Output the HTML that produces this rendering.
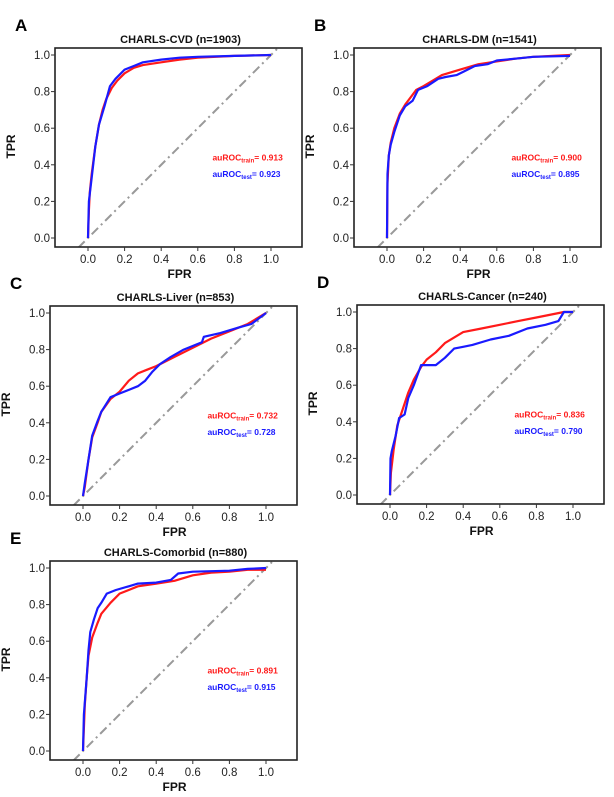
<!DOCTYPE html>
<html><head><meta charset="utf-8"><style>
html,body{margin:0;padding:0;background:#fff}
svg{display:block;font-family:"Liberation Sans",Arial,sans-serif}
</style></head><body>
<svg id="fig" width="614" height="797" viewBox="0 0 614 797" xmlns="http://www.w3.org/2000/svg"></svg>
<script>
const panelLetters = ["A","B","C","D","E"];
const panelTitles = ["CHARLS-CVD (n=1903)","CHARLS-DM (n=1541)","CHARLS-Liver (n=853)","CHARLS-Cancer (n=240)","CHARLS-Comorbid (n=880)"];
const aucTrain = ["0.913","0.900","0.732","0.836","0.891"];
const aucTest = ["0.923","0.895","0.728","0.790","0.915"];
const tickValues = [0,0.2,0.4,0.6,0.8,1.0];
const tickLabels = ["0.0","0.2","0.4","0.6","0.8","1.0"];

const trainFPR = [
 [0,0.005,0.01,0.02,0.04,0.06,0.08,0.1,0.13,0.16,0.2,0.25,0.3,0.4,0.5,0.6,0.8,1],
 [0,0.003,0.01,0.02,0.04,0.07,0.1,0.13,0.16,0.2,0.25,0.3,0.4,0.5,0.6,0.7,0.8,1],
 [0,0.01,0.03,0.05,0.08,0.1,0.15,0.2,0.25,0.3,0.35,0.4,0.5,0.6,0.7,0.8,0.9,1],
 [0,0.005,0.02,0.04,0.07,0.1,0.13,0.17,0.2,0.25,0.3,0.4,0.5,0.6,0.7,0.8,0.95,1],
 [0,0.01,0.02,0.03,0.05,0.08,0.1,0.15,0.2,0.25,0.3,0.4,0.5,0.6,0.7,0.8,0.9,1]
];
const trainTPR = [
 [0,0.15,0.25,0.35,0.5,0.62,0.7,0.76,0.82,0.86,0.9,0.93,0.945,0.96,0.975,0.985,0.995,1],
 [0,0.3,0.45,0.52,0.6,0.68,0.73,0.77,0.81,0.83,0.86,0.89,0.92,0.95,0.965,0.98,0.99,1],
 [0,0.05,0.2,0.32,0.4,0.46,0.53,0.57,0.63,0.67,0.69,0.71,0.76,0.81,0.86,0.9,0.94,1],
 [0,0.12,0.25,0.38,0.47,0.56,0.63,0.7,0.74,0.78,0.83,0.89,0.91,0.93,0.95,0.97,1,1],
 [0,0.25,0.4,0.52,0.62,0.7,0.75,0.81,0.86,0.88,0.9,0.915,0.93,0.96,0.975,0.98,0.99,0.99]
];
const testFPR = [
 [0,0.005,0.02,0.04,0.06,0.09,0.12,0.15,0.2,0.25,0.3,0.4,0.5,0.6,0.8,1],
 [0,0.003,0.01,0.02,0.04,0.07,0.1,0.14,0.17,0.22,0.28,0.32,0.38,0.42,0.48,0.55,0.6,0.7,0.8,1],
 [0,0.01,0.03,0.05,0.08,0.1,0.15,0.2,0.25,0.3,0.34,0.38,0.42,0.48,0.55,0.65,0.66,0.75,0.85,0.92,1],
 [0,0.003,0.01,0.03,0.05,0.08,0.1,0.13,0.17,0.25,0.3,0.35,0.4,0.45,0.55,0.65,0.75,0.85,0.92,0.95,1],
 [0,0.005,0.02,0.03,0.04,0.06,0.08,0.1,0.13,0.18,0.25,0.3,0.4,0.48,0.52,0.6,0.8,0.9,1]
];
const testTPR = [
 [0,0.2,0.33,0.5,0.62,0.72,0.83,0.87,0.92,0.94,0.96,0.975,0.985,0.99,0.995,1],
 [0,0.35,0.45,0.51,0.58,0.67,0.72,0.75,0.81,0.83,0.87,0.88,0.89,0.91,0.94,0.95,0.97,0.98,0.99,0.995],
 [0,0.07,0.2,0.33,0.41,0.46,0.54,0.56,0.58,0.6,0.63,0.68,0.72,0.76,0.8,0.84,0.87,0.89,0.92,0.94,1],
 [0,0.2,0.24,0.32,0.42,0.44,0.53,0.6,0.71,0.71,0.75,0.8,0.81,0.82,0.85,0.87,0.91,0.93,0.95,1,1],
 [0,0.2,0.4,0.55,0.65,0.72,0.78,0.81,0.86,0.88,0.9,0.915,0.92,0.935,0.97,0.98,0.985,0.995,1]
];

// layout: pixel positions of x=0 and y=0 for each panel
const layout = [
 {x0:88,y0:238},{x0:387,y0:238},{x0:83,y0:496},{x0:390,y0:495},{x0:83,y0:751}
];
const S = 183;
const NS = "http://www.w3.org/2000/svg";
const svg = document.getElementById('fig');
function el(tag, attrs, parent, text){
  const e = document.createElementNS(NS, tag);
  for (const k in attrs) e.setAttribute(k, attrs[k]);
  if (text !== undefined) e.textContent = text;
  (parent||svg).appendChild(e);
  return e;
}
panelLetters.forEach((L,i)=>{
  const {x0,y0} = layout[i];
  const X = v => x0 + v*S;
  const Y = v => y0 - v*S;
  const g = el('g',{});
  
  
  const left = x0-33, right = x0+214, top = Y(1)-7, bottom = y0+9;
  const clipId = 'clip'+i;
  const cp = el('clipPath',{id:clipId},g);
  el('rect',{x:left,y:top,width:right-left,height:bottom-top},cp);
  // letter
  const lt = el('text',{x:left-40,y:top-17,'font-size':17,'font-weight':'bold',fill:'#000'},g,L);
  
  
  const tt = el('text',{x:(left+right)/2+2,y:top-5,'font-size':11,'font-weight':'bold','text-anchor':'middle',fill:'#111'},g,panelTitles[i]);
  
  
  // diagonal
  const dg = el('line',{x1:X(-0.2),y1:Y(-0.2),x2:X(1.2),y2:Y(1.2),stroke:'#999',"stroke-width":2,"stroke-dasharray":"9,4,2,4","clip-path":`url(#${clipId})`},g);
  
  
  // curves
  const mk = (fx,ty,col,name)=>{
    const pts = fx.map((v,k)=>X(v).toFixed(1)+','+Y(ty[k]).toFixed(1)).join(' ');
    const p = el('polyline',{points:pts,fill:'none',stroke:col,'stroke-width':2.2,'stroke-linejoin':'round'},g);
    
    
  };
  mk(trainFPR[i],trainTPR[i],'#ff1a1a','roc-train-curve');
  mk(testFPR[i],testTPR[i],'#1a1aff','roc-test-curve');
  // box
  const bx = el('rect',{x:left,y:top,width:right-left,height:bottom-top,fill:'none',stroke:'#222','stroke-width':1.6},g);
  
  
  // ticks
  tickValues.forEach((t,k)=>{
    el('line',{x1:X(t),y1:bottom,x2:X(t),y2:bottom+4,stroke:'#333'},g);
    const xl = el('text',{x:X(t),y:bottom+16,'font-size':11.5,'text-anchor':'middle',fill:'#222'},g,tickLabels[k]);
    
    
    el('line',{x1:left,y1:Y(t),x2:left-4,y2:Y(t),stroke:'#333'},g);
    const yl = el('text',{x:left-5,y:Y(t)+4,'font-size':11.5,'text-anchor':'end',fill:'#222'},g,tickLabels[k]);
    
    
  });
  const xt = el('text',{x:X(0.5),y:bottom+31,'font-size':12,'font-weight':'bold','text-anchor':'middle',fill:'#111'},g,'FPR');
  
  
  const yx = left-40, yy = Y(0.5);
  const yt = el('text',{x:yx,y:yy,'font-size':12,'font-weight':'bold','text-anchor':'middle',transform:`rotate(-90 ${yx} ${yy})`,fill:'#111'},g,'TPR');
  
  
  // legend
  const leg = (yv,col,sub,val,name)=>{
    const t = el('text',{x:X(0.68),y:Y(yv)+3,'font-size':8.5,'font-weight':'bold',fill:col},g);
    
    
    el('tspan',{},t,'auROC');
    el('tspan',{'font-size':6,dy:2},t,sub);
    el('tspan',{dy:-2},t,'= '+val);
  };
  leg(0.44,'#ff1a1a','train',aucTrain[i],'auroc-train-label');
  leg(0.35,'#1a1aff','test',aucTest[i],'auroc-test-label');
});
</script>
</body></html>
